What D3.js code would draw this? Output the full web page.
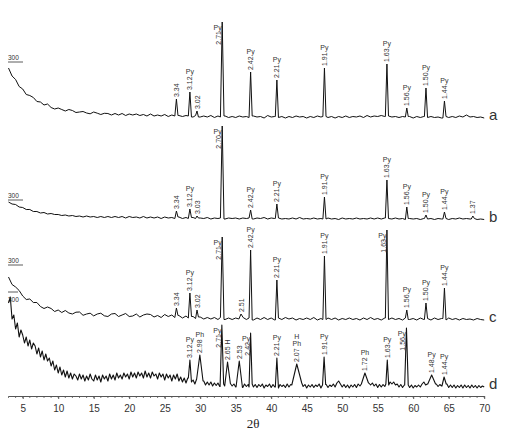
<!DOCTYPE html>
<html>
<head>
<meta charset="utf-8">
<title>XRD patterns a-d</title>
<script src="https://cdnjs.cloudflare.com/ajax/libs/d3/7.8.5/d3.min.js"></script>
<style>
  body { margin: 0; background: #fff; }
  svg { display: block; font-family: "Liberation Sans", Arial, sans-serif; }
</style>
</head>
<body>
<div id="chart"></div>
<script>
// background arrays start at 3 deg 2theta; a-c every 0.5 deg, d every 0.25 deg
var thetaStart = 3;
var baseSteps = [0.5, 0.5, 0.5, 0.25];
var majorTicks = [5, 10, 15, 20, 25, 30, 35, 40, 45, 50, 55, 60, 65, 70];
var traceNames = ["a", "b", "c", "d"];

// background (intensity above each pattern's base level)
var aBase = [50, 42, 38.5, 31.5, 29, 23.5, 22.5, 20.5, 16.5, 16,
  13, 14, 10.5, 9, 10, 8.5, 7, 8.5, 7.5, 5.5,
  6, 6.5, 5, 4.2, 6, 4.8, 3.5, 4.7, 4.5, 3,
  4.5, 3, 4.5, 2.5, 4, 3, 4, 2.5, 3.5, 2,
  4, 2, 3, 2, 3.5, 1.5, 3, 2, 2.5, 1.5,
  2.5, 2, 1, 2.5, 1, 2, 1, 2.5, 0.5, 2,
  1, 2, 0.5, 1.5, 0.5, 2, 1, 1.5, 0.5, 2,
  1, 1.5, 0, 2.5, 1, 1.5, 0.5, 1.5, 0, 1.5,
  0.5, 2, 1, 1.5, 0, 1.5, 0.5, 2, 1, 1.5,
  0.5, 1.5, 0, 1.5, 0.5, 2, 0.5, 1.5, 1, 2,
  0.5, 2.5, 1, 2, 1.5, 2.5, 1.5, 2, 1, 1.5,
  0.5, 1.5, 1, 1.5, 0, 1.5, 0.5, 1.5, 0.5, 1.5,
  0.5, 1, 0, 1.5, 0.5, 1.5, 0.5, 2, 1, 3,
  1, 1.5, 0.5, 1, 0];
var bBase = [18, 16, 15.5, 13, 12.5, 10.5, 10.5, 8.5, 8.5, 7,
  7.5, 6, 6.5, 5.5, 5.5, 4.5, 5, 4, 4.5, 3.5,
  4, 3, 4, 3, 3.5, 2.5, 3.5, 2.5, 3.5, 2.5,
  3.5, 2.5, 3.5, 2, 3.5, 2.5, 3, 2, 3.5, 2,
  3, 2, 3, 1.5, 3, 2, 2.5, 1.5, 3, 1.5,
  2.5, 1.5, 2.5, 1.5, 2, 1.5, 2.5, 1, 2, 1.5,
  2, 1, 2, 1.5, 2, 1, 2, 1.5, 2, 1,
  2, 1.5, 2.5, 1, 2, 1.5, 2, 1, 1.5, 1,
  2, 1, 2.5, 1, 1.5, 1, 2, 1, 1.5, 1,
  2, 1, 1.5, 0.5, 2, 1, 1.5, 1, 2, 1,
  1.5, 1, 2, 1, 2, 1, 2, 1.5, 1, 2,
  1, 1.5, 0.5, 1.5, 1, 1.5, 0.5, 1.5, 1, 1.5,
  0.5, 1.5, 1, 1.5, 0.5, 1.5, 1, 2, 1, 1.5,
  1, 1.5, 0.5, 1, 0.5];
var cBase = [43, 35.5, 33, 29.5, 24, 20.5, 21, 17.5, 17.5, 13.5,
  11.5, 13, 11.5, 8.5, 10, 7.5, 9.5, 7, 6, 7.8,
  8, 4.7, 6, 6.8, 4.1, 6, 6.8, 4.2, 3.5, 6,
  6.5, 3.5, 5, 6.5, 3.5, 4, 6, 3, 5, 6,
  5.5, 3, 4.5, 2.5, 5.5, 3.5, 5, 2.5, 4.5, 2,
  4, 2, 3.5, 1.5, 3, 1, 2.5, 1, 2.5, 0.5,
  2.5, 0.5, 2, 0.5, 2, 1, 2.5, 0.5, 2, 0,
  2, 0.5, 2.5, 0.5, 2, 0, 2, 0.5, 2.5, 1,
  2, 0, 1.5, 0.5, 2, 0.5, 2.5, 0, 1.5, 0.5,
  2, 0.5, 2, 0, 1.5, 0.5, 2, 0.5, 1.5, 0,
  2, 0.5, 2.5, 0.5, 1.5, 0, 2, 0.5, 2, 0.5,
  1.5, 0, 2, 0.5, 1.5, 0, 2, 0.5, 1.5, 0,
  2, 0.5, 1.5, 0, 2, 0.5, 1.5, 0, 1.5, 0.5,
  1, 0, 1.5, 0.5, 0];
var dBase = [
  84, 90, 68, 72,  58, 64, 50, 57,  52, 44, 50, 41,  47, 38, 44, 41,     // 3-6.75
  33, 39, 30, 36,  27, 33, 26, 29,  21, 26, 17, 22,  14, 20, 12, 17,     // 7-10.75
  10, 16, 9, 14,   8, 13, 11, 7,    13, 8, 12, 6,    11, 7, 13, 8,       // 11-14.75
  6, 12, 7, 11,    5, 12, 8, 11,    6, 13, 8, 12,    7, 14, 9, 12,       // 15-18.75
  8, 14, 10, 13,   8, 15, 10, 14,   9, 15, 11, 14,   9, 16, 10, 14,      // 19-22.75
  9, 15, 11, 13,   8, 14, 10, 13,   7, 13, 9, 12,    6, 12, 8, 13,       // 23-26.75
  6, 10, 5, 9,     4, 9, 6, 5,      7, 3, 8, 4,      6, 3, 6, 2,         // 27-30.75
  5, 2, 5, 1,      4, 1.5, 4, 0.5,  2, 3, 1, 4,      0.5, 3.5, 1, 3,     // 31-34.75
  0, 3, 1, 3.5,    -0.5, 3, 0.5, 2.5, 0, 3, 0, 2.5,  -0.5, 2.5, 0.5, 3,  // 35-38.75
  -1, 2, 0.5, 3,   -0.5, 2.5, 0, 2, -1, 2.5, 0.5, 2, -0.5, 3, 0, 2.5,    // 39-42.75
  2, 4, 3, 5,      3, 4, 0.5, 2.5,  -1, 2, 0, 2.5,   -0.5, 2, 0.5, 3,    // 43-46.75
  -1, 2, 0, 2.5,   -0.5, 2, 0.5, 3, 0, 4, 6, 3,      0, 2.5, -0.5, 2,    // 47-50.75
  -1, 2, 0, 2.5,   -0.5, 3, 1, 3,   2, 4, 2, 4,      2, 4, 1, 3,         // 51-54.75
  -0.5, 2.5, 0, 2.5, 0.5, 3, 2, 5, 3, 5, 2, 3,       0, 2.5, -0.5, 2,    // 55-58.75
  0, 2, -0.5, 2,   -1, 1.5, 0, 2,   0, 3, 5, 2,      3, 5, 4, 5,         // 59-62.75
  2, 3, 0.5, 2.5,  1, 3, 1, 3,      -0.5, 2, -0.5, 2, -1, 1.5, -0.5, 2,  // 63-66.75
  -1, 2, -0.5, 1.5, -1, 2, -0.5, 1.5, -1, 1.5, -0.5, 1,                 // 67-69.75
  0];

// peaks: [2theta, apex intensity, half width at foot (deg), d-spacing label, phase]
var aPeaks = [[26.65, 19, 0.22, "3.34", ""], [28.55, 26, 0.22, "3.12", "Py"],
  [29.55, 7, 0.2, "3.02", ""], [33.1, 96, 0.25, "2.71", "Py"],
  [37.1, 46, 0.22, "2.42", "Py"], [40.8, 38, 0.22, "2.21", "Py"],
  [47.5, 50, 0.22, "1.91", "Py"], [56.3, 54, 0.22, "1.63", "Py"],
  [59.1, 10, 0.2, "1.56", "Py"], [61.8, 30, 0.22, "1.50", "Py"],
  [64.4, 17, 0.22, "1.44", "Py"]];
var bPeaks = [[26.65, 9, 0.22, "3.34", ""], [28.55, 11, 0.22, "3.12", "Py"],
  [29.55, 4, 0.2, "3.03", ""], [33.1, 94, 0.25, "2.70", "Py"],
  [37.1, 10, 0.22, "2.42", "Py"], [40.8, 16, 0.22, "2.21", "Py"],
  [47.5, 23, 0.22, "1.91", "Py"], [56.3, 40, 0.22, "1.63", "Py"],
  [59.1, 13, 0.2, "1.56", "Py"], [61.8, 5, 0.22, "1.50", "Py"],
  [64.4, 8, 0.22, "1.44", "Py"], [68.4, 4, 0.22, "1.37", ""]];
var cPeaks = [[26.65, 12, 0.22, "3.34", ""], [28.55, 27, 0.22, "3.12", "Py"],
  [29.55, 10, 0.2, "3.02", ""], [33.1, 83, 0.25, "2.71", "Py"],
  [35.75, 6, 0.3, "2.51", ""], [37.1, 70, 0.22, "2.42", "Py"],
  [40.8, 40, 0.22, "2.21", "Py"], [47.5, 64, 0.22, "1.91", "Py"],
  [56.3, 90, 0.22, "1.63", "Py"], [59.1, 10, 0.2, "1.56", "Py"],
  [61.8, 17, 0.22, "1.50", "Py"], [64.4, 32, 0.22, "1.44", "Py"]];
var dPeaks = [[28.55, 27, 0.22, "3.12", "Py"], [29.95, 32, 0.45, "2.98", "Ph"],
  [33.05, 62, 0.25, "2.71", "Py"], [33.85, 25, 0.4, "2.65 H", ""],
  [35.5, 26, 0.45, "2.53", ""], [37.1, 54, 0.22, "2.42", "Py"],
  [40.8, 29, 0.22, "2.21", "Py"], [43.6, 23, 0.7, "2.07", "H/Ph"],
  [47.45, 30, 0.22, "1.91", "Py"], [53.2, 14, 0.5, "1.72", "Ph"],
  [56.35, 27, 0.2, "1.63", "Py"], [59.05, 59, 0.25, "1.56", "Py"],
  [62.6, 12, 0.55, "1.48", "Py"], [64.35, 10, 0.3, "1.44", "Py"]];

var bases = [aBase, bBase, cBase, dBase];
var peakSets = [aPeaks, bPeaks, cPeaks, dPeaks];

// layout
var W = 508, H = 430, axisY = 396;
var traceOffset = [278, 176, 76, 9];        // base level of each pattern above the axis
var scaleBarY = [62, 200, 265, 292];        // the little "300" marks on the left

var svg = d3.select("#chart").append("svg")
  .attr("width", W)
  .attr("height", H);

var x = d3.scaleLinear().domain([3, 70]).range([8.5, 484.2]);
var y = d3.scaleLinear().domain([0, axisY]).range([axisY, 0]);

function buildPoints(base, step, peaks) {
  var pts = base.map(function (v, i) { return [thetaStart + i * step, v]; });
  peaks.forEach(function (p) {
    pts = pts.filter(function (q) { return q[0] < p[0] - p[2] || q[0] > p[0] + p[2]; });
  });
  peaks.forEach(function (p) {
    var l = base[Math.round((p[0] - p[2] - thetaStart) / step)];
    var r = base[Math.round((p[0] + p[2] - thetaStart) / step)];
    pts.push([p[0] - p[2], l], [p[0], p[1]], [p[0] + p[2], r]);
  });
  return pts.sort(function (a, b) { return a[0] - b[0]; });
}

traceNames.forEach(function (name, k) {
  var off = traceOffset[k];
  var g = svg.append("g");
  var line = d3.line()
    .x(function (d) { return x(d[0]); })
    .y(function (d) { return y(off + d[1]); });

  g.append("path")
    .datum(buildPoints(bases[k], baseSteps[k], peakSets[k]))
    .attr("d", line)
    .attr("fill", "none")
    .attr("stroke", "#111")
    .attr("stroke-width", k === 3 ? 1.1 : 1)
    .attr("stroke-linejoin", "round");

  // peak labels; go beside the peak line when they would run into the pattern above
  var ceiling = k === 0 ? 0 : y(traceOffset[k - 1]);
  peakSets[k].forEach(function (p) {
    var px = x(p[0]), top = y(off + p[1]);
    var tags = p[4] ? p[4].split("/") : [];
    var t = g.append("text")
      .attr("font-size", 7)
      .attr("fill", "#333")
      .text(p[3]);
    var len = t.node().getComputedTextLength();
    var need = len + 3 + tags.length * 7;
    if (top - need >= ceiling) {
      t.attr("transform", "translate(" + (px + 2.5) + "," + (top - 2) + ") rotate(-90)");
      tags.slice().reverse().forEach(function (tag, j) {
        g.append("text")
          .attr("font-size", 7).attr("fill", "#333")
          .attr("text-anchor", "middle")
          .attr("x", px).attr("y", top - 3 - len - 1 - j * 7)
          .text(tag);
      });
    } else {
      var start = top + 2 + tags.length * 7;
      t.attr("text-anchor", "end")
        .attr("transform", "translate(" + (px - 1) + "," + start + ") rotate(-90)");
      tags.slice().reverse().forEach(function (tag, j) {
        g.append("text")
          .attr("font-size", 7).attr("fill", "#333")
          .attr("text-anchor", "middle")
          .attr("x", px - 4.5).attr("y", start - 1 - j * 7)
          .text(tag);
      });
    }
  });

  // trace letter
  svg.append("text")
    .attr("x", 489)
    .attr("y", y(off) + 2)
    .attr("font-size", 15)
    .attr("fill", "#333")
    .text(name);

  // "300" scale mark
  var sy = scaleBarY[k];
  svg.append("line")
    .attr("x1", 8).attr("x2", k === 3 ? 18 : 23)
    .attr("y1", sy).attr("y2", sy)
    .attr("stroke", "#333").attr("stroke-width", 0.8);
  svg.append("text")
    .attr("x", 8)
    .attr("y", k === 3 ? sy + 10 : sy - 2)
    .attr("font-size", 6.5)
    .attr("fill", "#333")
    .text("300");
});

// x axis
var xAxis = d3.axisBottom(x)
  .tickValues(majorTicks)
  .tickSize(3)
  .tickSizeOuter(0)
  .tickPadding(6);
var ax = svg.append("g")
  .attr("transform", "translate(0," + axisY + ")")
  .call(xAxis);
ax.select(".domain").attr("stroke", "#555");
ax.selectAll(".tick line").attr("stroke", "#555");
ax.selectAll(".tick text")
  .attr("font-size", 10)
  .attr("fill", "#333")
  .attr("font-family", "Liberation Sans, Arial, sans-serif");

svg.append("g")
  .selectAll("line")
  .data(d3.range(3, 71))
  .join("line")
  .attr("x1", function (d) { return x(d); })
  .attr("x2", function (d) { return x(d); })
  .attr("y1", axisY)
  .attr("y2", axisY + 2)
  .attr("stroke", "#555")
  .attr("stroke-width", 0.8);

svg.append("text")
  .attr("x", 253)
  .attr("y", 428)
  .attr("text-anchor", "middle")
  .attr("font-family", "Liberation Serif, Times New Roman, serif")
  .attr("font-size", 13)
  .attr("fill", "#222")
  .text("2θ");
</script>
</body>
</html>
